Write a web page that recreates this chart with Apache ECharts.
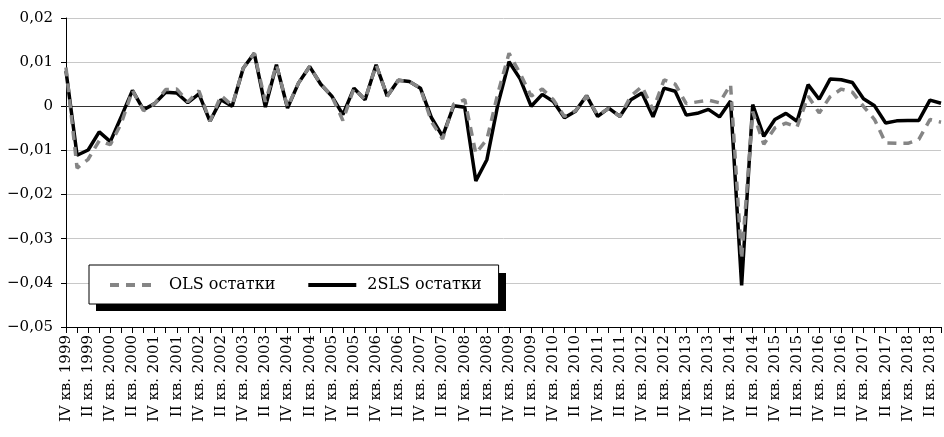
<!DOCTYPE html>
<html><head><meta charset="utf-8">
<script src="https://cdn.jsdelivr.net/npm/echarts@6/dist/echarts.min.js"></script>
<style>html,body{margin:0;padding:0;background:#fff}#c{width:944px;height:437px}</style>
</head><body><div id="c"></div>
<script>
// Quarter labels exactly as printed on the original axis (every second one shown)
const tickLabels = [
 'IV кв. 1999','II кв. 1999','IV кв. 2000','II кв. 2000','IV кв. 2001','II кв. 2001',
 'IV кв. 2002','II кв. 2002','IV кв. 2003','II кв. 2003','IV кв. 2004','II кв. 2004',
 'IV кв. 2005','II кв. 2005','IV кв. 2006','II кв. 2006','IV кв. 2007','II кв. 2007',
 'IV кв. 2008','II кв. 2008','IV кв. 2009','II кв. 2009','IV кв. 2010','II кв. 2010',
 'IV кв. 2011','II кв. 2011','IV кв. 2012','II кв. 2012','IV кв. 2013','II кв. 2013',
 'IV кв. 2014','II кв. 2014','IV кв. 2015','II кв. 2015','IV кв. 2016','II кв. 2016',
 'IV кв. 2017','II кв. 2017','IV кв. 2018','II кв. 2018'
];
// Unlabelled quarters in between
const midLabels = [
 'I кв. 1999','III кв. 1999','I кв. 2000','III кв. 2000','I кв. 2001','III кв. 2001',
 'I кв. 2002','III кв. 2002','I кв. 2003','III кв. 2003','I кв. 2004','III кв. 2004',
 'I кв. 2005','III кв. 2005','I кв. 2006','III кв. 2006','I кв. 2007','III кв. 2007',
 'I кв. 2008','III кв. 2008','I кв. 2009','III кв. 2009','I кв. 2010','III кв. 2010',
 'I кв. 2011','III кв. 2011','I кв. 2012','III кв. 2012','I кв. 2013','III кв. 2013',
 'I кв. 2014','III кв. 2014','I кв. 2015','III кв. 2015','I кв. 2016','III кв. 2016',
 'I кв. 2017','III кв. 2017','I кв. 2018','III кв. 2018'
];

const olsResiduals = [
 0.0088,-0.0140,-0.0120,-0.0078,-0.0087,-0.0038, 0.0036,-0.0010, 0.0006, 0.0038,
 0.0039, 0.0010, 0.0035,-0.0034, 0.0024, 0.0002, 0.0086, 0.0120, 0.0010, 0.0094,
-0.0002, 0.0053, 0.0090, 0.0050, 0.0023,-0.0032, 0.0041, 0.0015, 0.0094, 0.0023,
 0.0059, 0.0056, 0.0041,-0.0035,-0.0074, 0.0005, 0.0015,-0.0107,-0.0075, 0.0030,
 0.0120, 0.0074, 0.0023, 0.0039, 0.0015,-0.0023,-0.0010, 0.0023,-0.0020,-0.0005,
-0.0023, 0.0023, 0.0045,-0.0008, 0.0060, 0.0050, 0.0006, 0.0010, 0.0014, 0.0008,
 0.0049,-0.0346,-0.0012,-0.0086,-0.0049,-0.0038,-0.0047, 0.0023,-0.0015, 0.0022,
 0.0039, 0.0032, 0.0000,-0.0030,-0.0083,-0.0084,-0.0084,-0.0075,-0.0030,-0.0036
];
const tslsResiduals = [
 0.0080,-0.0111,-0.0099,-0.0058,-0.0080,-0.0023, 0.0036,-0.0008, 0.0006, 0.0032,
 0.0030, 0.0008, 0.0028,-0.0034, 0.0015, 0.0000, 0.0086, 0.0120,-0.0002, 0.0094,
-0.0004, 0.0053, 0.0090, 0.0050, 0.0023,-0.0019, 0.0041, 0.0015, 0.0094, 0.0023,
 0.0059, 0.0056, 0.0041,-0.0026,-0.0068, 0.0001,-0.0002,-0.0169,-0.0121, 0.0005,
 0.0101, 0.0062, 0.0000, 0.0027, 0.0011,-0.0026,-0.0011, 0.0024,-0.0023,-0.0004,
-0.0023, 0.0015, 0.0030,-0.0024, 0.0041, 0.0034,-0.0020,-0.0016,-0.0007,-0.0024,
 0.0012,-0.0406, 0.0004,-0.0068,-0.0030,-0.0016,-0.0034, 0.0049, 0.0016, 0.0062,
 0.0060, 0.0054, 0.0017, 0.0001,-0.0038,-0.0033,-0.0032,-0.0032, 0.0014, 0.0007
];
const seriesNames = ['OLS остатки', '2SLS остатки'];
const yMin = -0.05, yMax = 0.02, yStep = 0.01;

const categories = [];
tickLabels.forEach((t, i) => { categories.push(t); categories.push(midLabels[i]); });

const font = 'DejaVu Serif';
const chart = echarts.init(document.getElementById('c'), null, {renderer: 'canvas'});
chart.setOption({
  animation: false,
  backgroundColor: '#fff',
  grid: {left: 66, right: 3, top: 18, bottom: 110, containLabel: false},
  graphic: [{
    type: 'rect', z: 2, silent: true,
    shape: {x: 96, y: 273, width: 410, height: 38},
    style: {fill: '#000'}
  }],
  legend: {
    data: seriesNames,
    left: 89, top: 265, z: 10,
    orient: 'horizontal',
    itemWidth: 48, itemHeight: 14, itemGap: 31,
    padding: [12, 17, 11, 19],
    backgroundColor: '#fff',
    borderColor: '#000', borderWidth: 1,
    itemStyle: {opacity: 0},
    lineStyle: {width: 4},
    textStyle: {fontFamily: font, fontSize: 16, color: '#000', padding: [0, 0, 0, 6]}
  },
  xAxis: {
    type: 'category',
    data: categories,
    boundaryGap: false,
    axisLine: {onZero: false, lineStyle: {color: '#000', width: 1}},
    axisTick: {show: true, interval: 0, length: 6, lineStyle: {color: '#000'}},
    axisLabel: {interval: 1, rotate: 90, margin: 8, fontFamily: font, fontSize: 15, color: '#000'},
    splitLine: {show: false}
  },
  yAxis: {
    type: 'value',
    min: yMin, max: yMax, interval: yStep,
    axisLine: {show: true, lineStyle: {color: '#000', width: 1}},
    axisTick: {show: true, length: 5, lineStyle: {color: '#000'}},
    axisLabel: {
      margin: 13, fontFamily: font, fontSize: 15, color: '#000',
      formatter: v => {
        if (Math.abs(v) < 1e-9) return '0';
        return (v < 0 ? '\u2212' : '') + Math.abs(v).toFixed(2).replace('.', ',');
      }
    },
    splitLine: {show: true, lineStyle: {color: '#c8c8c8', width: 1}}
  },
  series: [
    {
      name: seriesNames[0], type: 'line', data: olsResiduals, z: 4,
      symbol: 'none', showSymbol: false, smooth: false,
      lineStyle: {color: '#858585', width: 3.5, type: [9, 7]},
      itemStyle: {color: '#858585'}
    },
    {
      name: seriesNames[1], type: 'line', data: tslsResiduals, z: 3,
      symbol: 'none', showSymbol: false, smooth: false,
      lineStyle: {color: '#000', width: 3.5, type: 'solid'},
      itemStyle: {color: '#000'},
      markLine: {
        silent: true, symbol: 'none', z: 1,
        label: {show: false},
        lineStyle: {color: '#333', width: 1.2, type: 'solid'},
        data: [{yAxis: 0}]
      }
    }
  ]
});
</script>
</body></html>
